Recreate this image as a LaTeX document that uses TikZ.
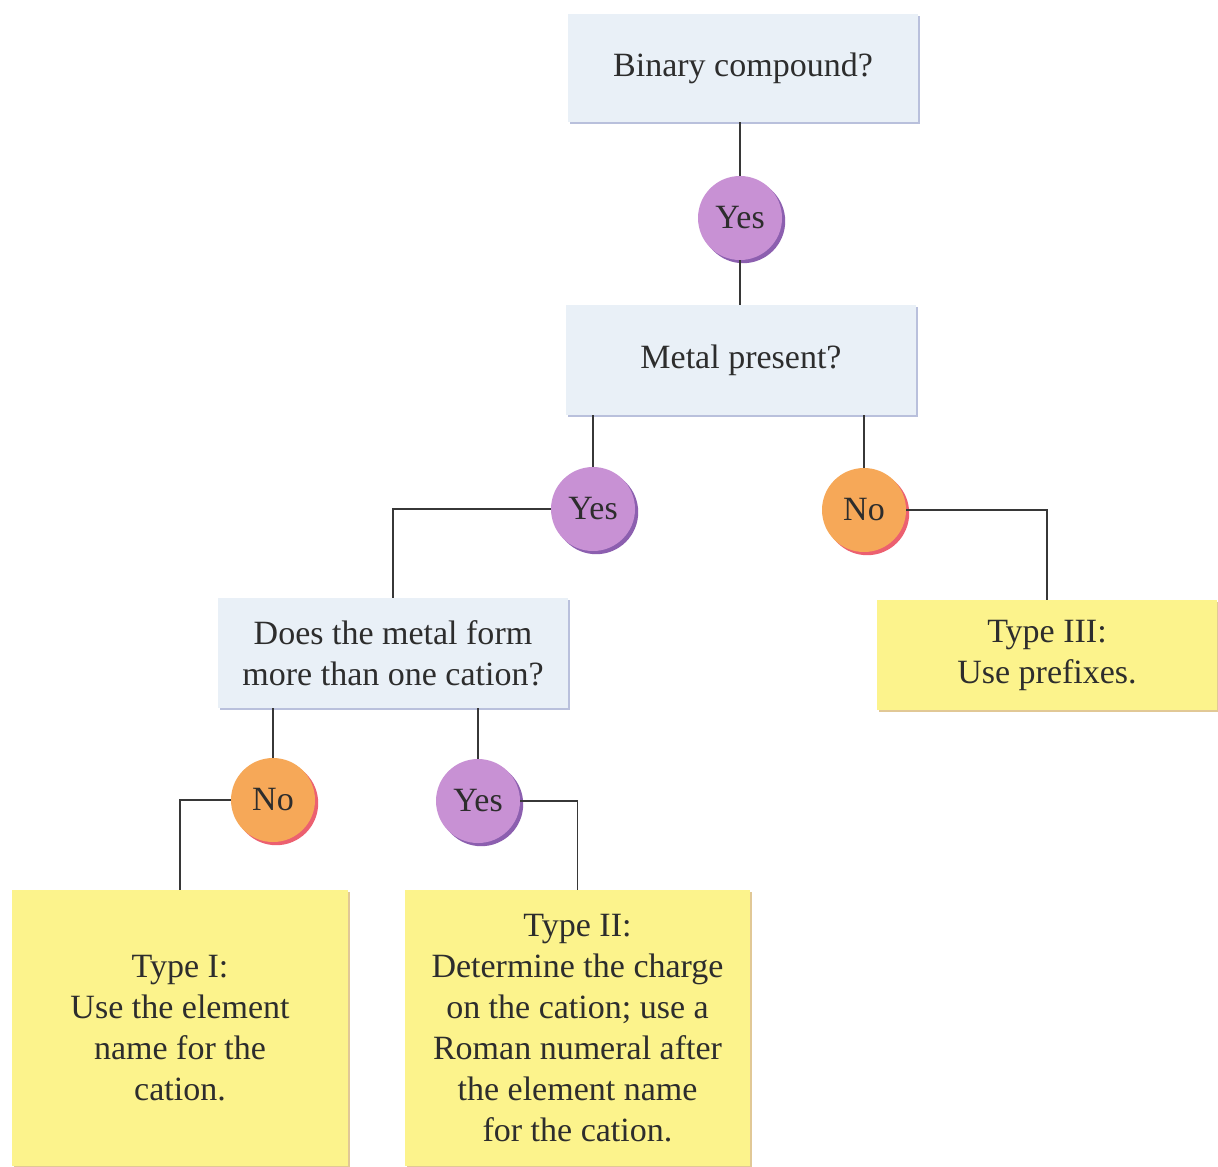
\documentclass[tikz,border=0pt]{standalone}
\usepackage{fontspec}
\setmainfont{Liberation Serif}
\usetikzlibrary{shadows}
\definecolor{qblue}{RGB}{233,240,247}
\definecolor{qblueshadow}{RGB}{185,192,220}
\definecolor{ansyellow}{RGB}{252,243,140}
\definecolor{ansyshadow}{RGB}{225,200,150}
\definecolor{yespurple}{RGB}{200,145,212}
\definecolor{yesshadow}{RGB}{140,95,175}
\definecolor{noorange}{RGB}{246,168,88}
\definecolor{noshadow}{RGB}{236,96,112}
\definecolor{txt}{RGB}{45,45,45}
\definecolor{wire}{RGB}{55,55,55}
\begin{document}
\begin{tikzpicture}[x=0.5pt,y=-0.5pt,
  every node/.style={font=\fontsize{17}{20.5}\selectfont, text=txt, align=center, inner sep=0pt},
  qbox/.style={fill=qblue, rectangle,
     drop shadow={shadow xshift=1pt, shadow yshift=-1pt, fill=qblueshadow, opacity=1}},
  abox/.style={fill=ansyellow, rectangle,
     drop shadow={shadow xshift=1pt, shadow yshift=-1pt, fill=ansyshadow, opacity=1}},
  yesc/.style={circle, fill=yespurple, minimum size=42pt,
     drop shadow={shadow xshift=1.6pt, shadow yshift=-1.6pt, fill=yesshadow, opacity=1}},
  noc/.style={circle, fill=noorange, minimum size=42pt,
     drop shadow={shadow xshift=1.6pt, shadow yshift=-1.6pt, fill=noshadow, opacity=1}},
  wirestyle/.style={draw=wire, line width=0.9pt}
]
\useasboundingbox[fill=white] (0,0) rectangle (1218,1166);

% question boxes
\node[qbox, minimum width=175pt, minimum height=54pt] (b1) at (743,68) {Binary compound?};
\node[qbox, minimum width=175pt, minimum height=55pt] (b2) at (741,360) {Metal present?};
\node[qbox, minimum width=175pt, minimum height=55pt] (b3) at (393,653) {Does the metal form\\more than one cation?};

% answer boxes
\node[abox, minimum width=170pt, minimum height=55pt] (b4) at (1047,655) {Type III:\\Use prefixes.};
\node[abox, minimum width=168pt, minimum height=138pt] (b5) at (180,1028) {Type I:\\Use the element\\name for the\\cation.};
\node[abox, minimum width=172.5pt, minimum height=138pt] (b6) at (577.5,1028) {Type II:\\Determine the charge\\on the cation; use a\\Roman numeral after\\the element name\\for the cation.};

% circles
\node[yesc] (y1) at (740,218) {Yes};
\node[yesc] (y2) at (593,509) {Yes};
\node[noc]  (n1) at (864,510) {No};
\node[noc]  (n2) at (273,800) {No};
\node[yesc] (y3) at (478,801) {Yes};

% connectors
\draw[wirestyle] (b1.south -| y1.north) -- (y1.north);
\draw[wirestyle] (y1.south) -- (y1.south |- b2.north);
\draw[wirestyle] (b2.south -| y2.north) -- (y2.north);
\draw[wirestyle] (b2.south -| n1.north) -- (n1.north);
\draw[wirestyle] (y2.west) -| (b3.north);
\draw[wirestyle] (n1.east) -| (b4.north);
\draw[wirestyle] (b3.south -| n2.north) -- (n2.north);
\draw[wirestyle] (b3.south -| y3.north) -- (y3.north);
\draw[wirestyle] (n2.west) -| (b5.north);
\draw[wirestyle] (y3.east) -| (b6.north);
\end{tikzpicture}
\end{document}
